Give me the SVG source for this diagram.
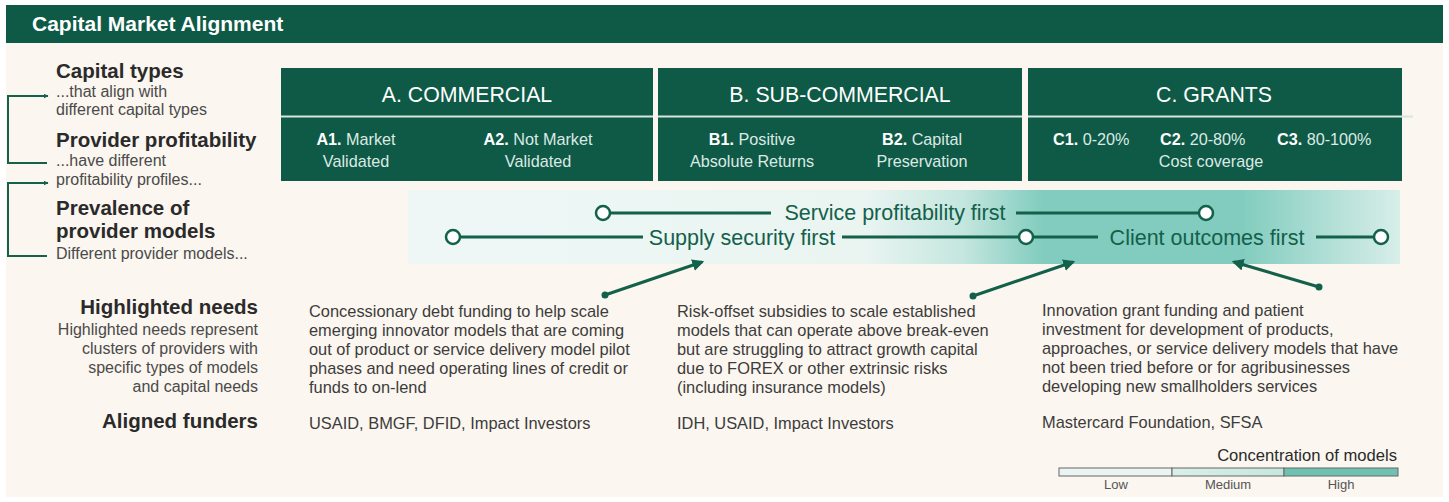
<svg xmlns="http://www.w3.org/2000/svg" width="1449" height="502" viewBox="0 0 1449 502">
<style>
text{font-family:"Liberation Sans",Arial,sans-serif}
.title{font-size:21px;font-weight:700;fill:#ffffff}
.h{font-size:20.5px;font-weight:700;fill:#2a2a2a}
.sub{font-size:16px;fill:#4a4a4a}
.hd{font-size:21.3px;fill:#ffffff;text-anchor:middle}
.cell{font-size:16.2px;fill:#dce9e4;text-anchor:middle}
.cell tspan.b{font-weight:700;fill:#ffffff}
.cl{font-size:16.2px;fill:#dce9e4}
.cl tspan.b{font-weight:700;fill:#ffffff}
.body{font-size:16.4px;fill:#3c3c3c}
.band{font-size:21.5px;fill:#13604b;text-anchor:middle}
.ln{stroke:#13604b;stroke-width:3;fill:none}
.dot{fill:#ffffff;stroke:#13604b;stroke-width:2.5}
.br{stroke:#15614c;stroke-width:2;fill:none}
.arr{stroke:#13604b;stroke-width:3;fill:none}
.box{fill:#0e5a46}
.div{stroke:#d6e6e0;stroke-width:2}
.lg{font-size:13px;fill:#555;text-anchor:middle}
</style>
<defs>
<linearGradient id="bandg" x1="408" y1="0" x2="1400" y2="0" gradientUnits="userSpaceOnUse">
<stop offset="0" stop-color="#eef7f5"/>
<stop offset="0.46" stop-color="#eaf5f2"/>
<stop offset="0.56" stop-color="#c4e6de"/>
<stop offset="0.64" stop-color="#81ccbe"/>
<stop offset="0.84" stop-color="#81ccbe"/>
<stop offset="1" stop-color="#d8eee9"/>
</linearGradient>
<linearGradient id="medg" x1="0" y1="0" x2="1" y2="0">
<stop offset="0" stop-color="#d9efe9"/>
<stop offset="1" stop-color="#c5e6de"/>
</linearGradient>
<marker id="ah" viewBox="0 0 10 10" refX="8" refY="5" markerWidth="4" markerHeight="4" orient="auto" markerUnits="strokeWidth">
<path d="M0,0 L10,5 L0,10 z" fill="#13604b"/>
</marker>
<marker id="br" viewBox="0 0 10 10" refX="9" refY="5" markerWidth="5" markerHeight="5" orient="auto" markerUnits="userSpaceOnUse">
<path d="M0,0 L10,5 L0,10 z" fill="#15614c"/>
</marker>
</defs>
<rect x="0" y="0" width="1449" height="502" fill="#ffffff"/>
<rect x="6" y="5" width="1437" height="492" fill="#fbf6ef"/>
<g id="header">
<rect x="6" y="5" width="1437" height="38" fill="#0e5a46"/>
<text class="title" x="32" y="31">Capital Market Alignment</text>
</g>
<g id="left-labels">
<text class="h" x="56" y="78">Capital types</text>
<text class="sub" x="56" y="97">...that align with</text>
<text class="sub" x="56" y="115">different capital types</text>
<text class="h" x="56" y="147">Provider profitability</text>
<text class="sub" x="56" y="166">...have different</text>
<text class="sub" x="56" y="185">profitability profiles...</text>
<text class="h" x="56" y="215">Prevalence of</text>
<text class="h" x="56" y="238">provider models</text>
<text class="sub" x="56" y="259">Different provider models...</text>
</g>
<g id="brackets">
<path class="br" d="M47,163 H8 V96 H48" marker-end="url(#br)"/>
<path class="br" d="M47,256 H8 V183 H48" marker-end="url(#br)"/>
</g>
<g id="box-a">
<rect class="box" x="281" y="68" width="372" height="113"/>
<line class="div" x1="281" y1="116.5" x2="653" y2="116.5"/>
<text class="hd" x="467" y="102">A. COMMERCIAL</text>
<text class="cell" x="356" y="145"><tspan class="b">A1.</tspan> Market</text>
<text class="cell" x="356" y="167">Validated</text>
<text class="cell" x="538" y="145"><tspan class="b">A2.</tspan> Not Market</text>
<text class="cell" x="538" y="167">Validated</text>
</g>
<g id="box-b">
<rect class="box" x="658" y="68" width="364" height="113"/>
<line class="div" x1="658" y1="116.5" x2="1022" y2="116.5"/>
<text class="hd" x="840" y="102">B. SUB-COMMERCIAL</text>
<text class="cell" x="752" y="145"><tspan class="b">B1.</tspan> Positive</text>
<text class="cell" x="752" y="167">Absolute Returns</text>
<text class="cell" x="922" y="145"><tspan class="b">B2.</tspan> Capital</text>
<text class="cell" x="922" y="167">Preservation</text>
</g>
<g id="box-c">
<rect class="box" x="1028" y="68" width="374" height="113"/>
<line class="div" x1="1028" y1="116.5" x2="1413" y2="116.5"/>
<text class="hd" x="1214" y="102">C. GRANTS</text>
<text class="cl" x="1053" y="145"><tspan class="b">C1.</tspan> 0-20%</text>
<text class="cl" x="1160" y="145"><tspan class="b">C2.</tspan> 20-80%</text>
<text class="cl" x="1277" y="145"><tspan class="b">C3.</tspan> 80-100%</text>
<text class="cell" x="1211" y="167">Cost coverage</text>
</g>
<g id="band">
<rect x="408" y="190" width="992" height="74" fill="url(#bandg)"/>
<line class="ln" x1="603" y1="213" x2="771" y2="213"/>
<text class="band" x="895" y="219.5">Service profitability first</text>
<line class="ln" x1="1016" y1="213" x2="1205" y2="213"/>
<circle class="dot" cx="603" cy="213" r="7"/>
<circle class="dot" cx="1206" cy="213" r="7"/>
<line class="ln" x1="453" y1="237" x2="643" y2="237"/>
<text class="band" x="742" y="244.5">Supply security first</text>
<line class="ln" x1="842" y1="237" x2="1098" y2="237"/>
<text class="band" x="1207" y="244.5">Client outcomes first</text>
<line class="ln" x1="1316" y1="237" x2="1380" y2="237"/>
<circle class="dot" cx="453" cy="237" r="7"/>
<circle class="dot" cx="1026" cy="237" r="7"/>
<circle class="dot" cx="1381" cy="237" r="7"/>
</g>
<g id="connectors">
<circle cx="605" cy="295" r="3.5" fill="#13604b"/>
<line class="arr" x1="605" y1="295" x2="702" y2="262" marker-end="url(#ah)"/>
<circle cx="973" cy="296" r="3.5" fill="#13604b"/>
<line class="arr" x1="973" y1="296" x2="1073" y2="262" marker-end="url(#ah)"/>
<circle cx="1319" cy="287" r="3.5" fill="#13604b"/>
<line class="arr" x1="1319" y1="287" x2="1234" y2="262" marker-end="url(#ah)"/>
</g>
<g id="row-labels">
<text class="h" x="258" y="314" text-anchor="end">Highlighted needs</text>
<text class="sub" x="258" y="335" text-anchor="end">Highlighted needs represent</text>
<text class="sub" x="258" y="354" text-anchor="end">clusters of providers with</text>
<text class="sub" x="258" y="373" text-anchor="end">specific types of models</text>
<text class="sub" x="258" y="392" text-anchor="end">and capital needs</text>
<text class="h" x="258" y="428" text-anchor="end">Aligned funders</text>
</g>
<g id="need-a">
<text class="body" x="309" y="317">Concessionary debt funding to help scale</text>
<text class="body" x="309" y="336">emerging innovator models that are coming</text>
<text class="body" x="309" y="355">out of product or service delivery model pilot</text>
<text class="body" x="309" y="374">phases and need operating lines of credit or</text>
<text class="body" x="309" y="393">funds to on-lend</text>
<text class="body" x="309" y="429">USAID, BMGF, DFID, Impact Investors</text>
</g>
<g id="need-b">
<text class="body" x="677" y="317">Risk-offset subsidies to scale established</text>
<text class="body" x="677" y="336">models that can operate above break-even</text>
<text class="body" x="677" y="355">but are struggling to attract growth capital</text>
<text class="body" x="677" y="374">due to FOREX or other extrinsic risks</text>
<text class="body" x="677" y="393">(including insurance models)</text>
<text class="body" x="677" y="429">IDH, USAID, Impact Investors</text>
</g>
<g id="need-c">
<text class="body" x="1042" y="316">Innovation grant funding and patient</text>
<text class="body" x="1042" y="335">investment for development of products,</text>
<text class="body" x="1042" y="354">approaches, or service delivery models that have</text>
<text class="body" x="1042" y="373">not been tried before or for agribusinesses</text>
<text class="body" x="1042" y="392">developing new smallholders services</text>
<text class="body" x="1042" y="428">Mastercard Foundation, SFSA</text>
</g>
<g id="legend">
<text x="1397" y="461" text-anchor="end" style="font-size:16.6px;fill:#2a2a2a">Concentration of models</text>
<rect x="1059" y="468" width="113" height="8" fill="#eaf4f3" stroke="#666" stroke-width="1"/>
<rect x="1172" y="468" width="112" height="8" fill="url(#medg)" stroke="#666" stroke-width="1"/>
<rect x="1284" y="468" width="114" height="8" fill="#6fc2b2" stroke="#666" stroke-width="1"/>
<text class="lg" x="1116" y="489">Low</text>
<text class="lg" x="1228" y="489">Medium</text>
<text class="lg" x="1341" y="489">High</text>
</g>
</svg>
